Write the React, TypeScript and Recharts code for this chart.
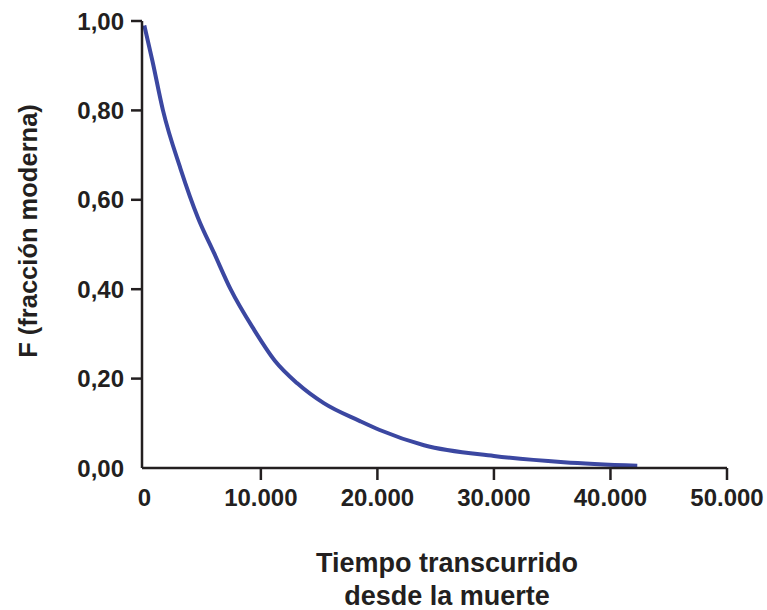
import React from "react";
import { LineChart, Line, XAxis, YAxis } from "recharts";

// años transcurridos y fracción moderna
const years = [0, 700, 1600, 3100, 4600, 6000, 7400, 9400, 11200, 13100, 15400, 18500, 20200, 24000, 30000, 36000, 42300];
const fraction = [0.99, 0.91, 0.8, 0.67, 0.56, 0.48, 0.4, 0.31, 0.24, 0.19, 0.145, 0.105, 0.085, 0.051, 0.027, 0.013, 0.005];
const xTicks = [0, 10000, 20000, 30000, 40000, 50000];
const yTicks = [0, 0.2, 0.4, 0.6, 0.8, 1];

const data = years.map((t, i) => ({ t, f: fraction[i] }));

const INK = "#231f20";
const FONT = '"Liberation Sans", Arial, Helvetica, sans-serif';
const AXIS_X = 142;
const AXIS_Y = 468;

const fmtX = (v: number) => String(v).replace(/\B(?=(\d{3})+(?!\d))/g, ".");
const fmtY = (v: number) => v.toFixed(2).replace(".", ",");

const YTick = (props: any) => {
  const { y, payload } = props;
  return (
    <g>
      {payload.value !== 0 && <line x1={AXIS_X - 11} x2={AXIS_X} y1={y} y2={y} stroke={INK} strokeWidth={2.5} />}
      <text x={AXIS_X - 18} y={y} textAnchor="end" dominantBaseline="central" fill={INK} fontSize={24} fontWeight={700} fontFamily={FONT}>
        {fmtY(payload.value)}
      </text>
    </g>
  );
};

const XTick = (props: any) => {
  const { x, payload } = props;
  return (
    <g>
      {payload.value !== 0 && <line x1={x} x2={x} y1={AXIS_Y} y2={AXIS_Y + 12} stroke={INK} strokeWidth={2.5} />}
      <text x={x} y={AXIS_Y + 29} textAnchor="middle" dominantBaseline="central" fill={INK} fontSize={24} fontWeight={700} fontFamily={FONT}>
        {fmtX(payload.value)}
      </text>
    </g>
  );
};

export default function App() {
  return (
    <div style={{ position: "absolute", left: 0, top: 0, width: 767, height: 610, background: "#fff" }}>
      <LineChart width={767} height={610} data={data} margin={{ top: 21, right: 40, bottom: 0, left: 0 }}>
        <XAxis
          dataKey="t"
          type="number"
          domain={[-200, 50000]}
          ticks={xTicks}
          tick={<XTick />}
          tickLine={false}
          axisLine={{ stroke: INK, strokeWidth: 2.5 }}
          height={142}
          allowDataOverflow
          label={{
            content: () => (
              <text textAnchor="middle" fill={INK} fontSize={27} fontWeight={700} fontFamily={FONT}>
                <tspan x={447} y={572}>Tiempo transcurrido</tspan>
                <tspan x={447} y={605}>desde la muerte</tspan>
              </text>
            ),
          }}
        />
        <YAxis
          type="number"
          domain={[0, 1]}
          ticks={yTicks}
          tick={<YTick />}
          tickLine={false}
          axisLine={{ stroke: INK, strokeWidth: 2.5 }}
          width={142}
          label={{
            content: () => (
              <text
                x={28}
                y={231}
                transform="rotate(-90 28 231)"
                textAnchor="middle"
                dominantBaseline="central"
                fill={INK}
                fontSize={25.5}
                fontWeight={700}
                fontFamily={FONT}
              >
                F (fracción moderna)
              </text>
            ),
          }}
        />
        <Line
          type="monotone"
          dataKey="f"
          stroke="#3b47a1"
          strokeWidth={4}
          dot={false}
          isAnimationActive={false}
        />
      </LineChart>
    </div>
  );
}
